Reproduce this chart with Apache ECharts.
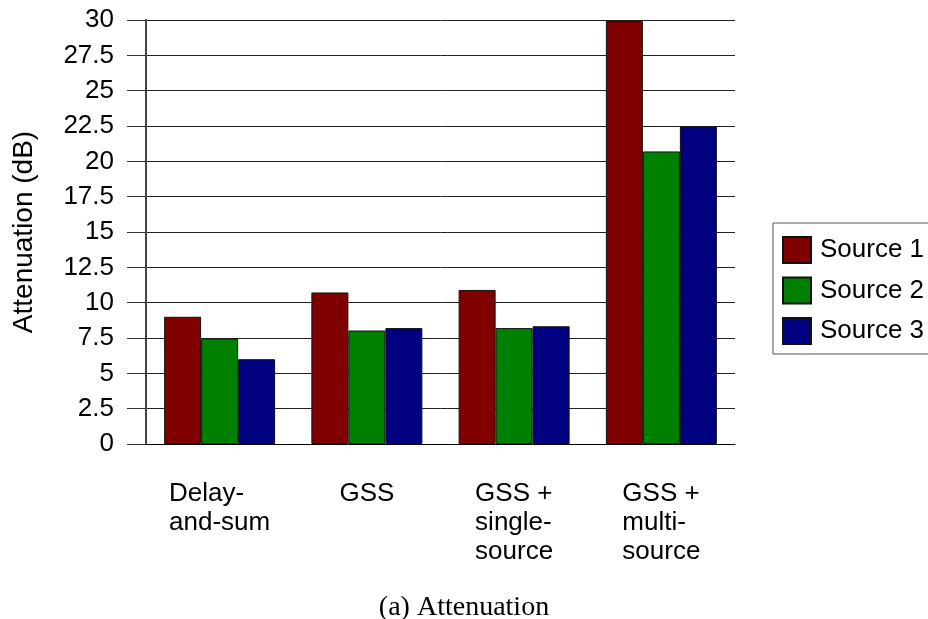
<!DOCTYPE html>
<html>
<head>
<meta charset="utf-8">
<script src="https://cdn.jsdelivr.net/npm/echarts@6/dist/echarts.min.js"></script>
<style>html,body{margin:0;padding:0;background:#fff}#c{width:928px;height:619px}</style>
</head>
<body>
<div id="c"></div>
<script>
const categories = ['Delay-\nand-sum', 'GSS', 'GSS +\nsingle-\nsource', 'GSS +\nmulti-\nsource'];
const source1 = [9.0, 10.72, 10.9, 29.93];
const source2 = [7.45, 8.03, 8.2, 20.7];
const source3 = [6.0, 8.2, 8.33, 22.47];
const seriesNames = ['Source 1', 'Source 2', 'Source 3'];
const colors = ['#800000', '#008000', '#000080'];
const yTicks = {min: 0, max: 30, interval: 2.5};
const caption = '(a) Attenuation';
const yName = 'Attenuation (dB)';

const chart = echarts.init(document.getElementById('c'), null, {renderer: 'canvas'});
const font = 'Liberation Sans, Arial, Helvetica, sans-serif';
const data = [source1, source2, source3];
chart.setOption({
  animation: false,
  backgroundColor: '#fff',
  title: {
    text: caption, left: 'center', top: 589,
    textStyle: {fontFamily: 'Liberation Serif, Times New Roman, serif', fontWeight: 'normal', fontSize: 28, color: '#000'}
  },
  legend: {
    orient: 'vertical', left: 773, top: 223,
    padding: [13, 20, 9, 9],
    icon: 'rect',
    itemWidth: 28, itemHeight: 26, itemGap: 12.5,
    borderColor: '#555', borderWidth: 1,
    textStyle: {fontFamily: font, fontSize: 26, color: '#000', padding: [0, 0, 0, 4]},
    data: seriesNames
  },
  grid: {left: 146, right: 193, top: 20, bottom: 175, containLabel: false},
  xAxis: {
    type: 'category', data: categories,
    axisLine: {lineStyle: {color: '#000', width: 1}},
    axisTick: {length: 19, lineStyle: {color: '#333'}},
    axisLabel: {
      interval: 0,
      margin: 35, color: '#000', fontFamily: font, fontSize: 26, lineHeight: 29,
      formatter: v => v.split('\n').map(s => '{l|' + s + '}').join('\n'),
      rich: {l: {fontFamily: font, fontSize: 26, lineHeight: 29, color: '#000', align: 'left'}}
    }
  },
  yAxis: {
    type: 'value', min: yTicks.min, max: yTicks.max, interval: yTicks.interval,
    name: yName, nameLocation: 'middle', nameGap: 108,
    nameTextStyle: {fontFamily: font, fontSize: 28, color: '#000'},
    axisLine: {show: true, lineStyle: {color: '#444', width: 2}},
    axisTick: {show: true, length: 19, lineStyle: {color: '#333'}},
    axisLabel: {margin: 32, color: '#000', fontFamily: font, fontSize: 26},
    splitLine: {lineStyle: {color: '#222', width: 1}}
  },
  series: data.map((d, i) => ({
    name: seriesNames[i], type: 'bar', data: d,
    barGap: '0%', barCategoryGap: '24.6%',
    itemStyle: {color: colors[i], borderColor: '#111', borderWidth: 1}
  }))
});
</script>
</body>
</html>
